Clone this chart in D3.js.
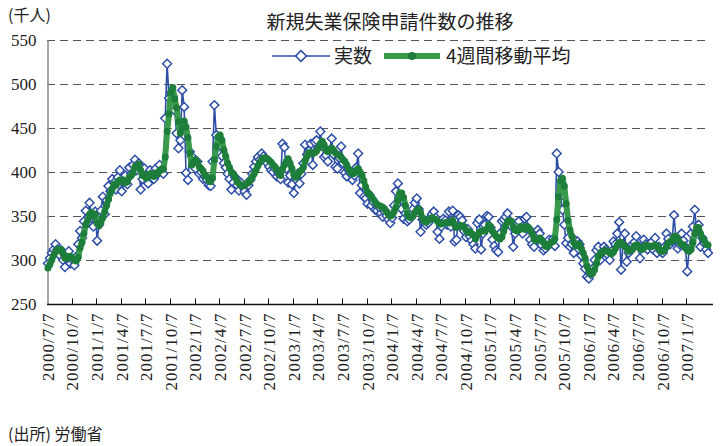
<!DOCTYPE html>
<html><head><meta charset="utf-8">
<script src="https://cdn.jsdelivr.net/npm/d3@7"></script>
<style>body{margin:0;background:#fff;}svg{display:block;}</style>
</head><body>
<svg id="c" width="723" height="446"></svg>
<script>
const tickLabels = ["2000/7/7","2000/10/7","2001/1/7","2001/4/7","2001/7/7","2001/10/7","2002/1/7","2002/4/7","2002/7/7","2002/10/7","2003/1/7","2003/4/7","2003/7/7","2003/10/7","2004/1/7","2004/4/7","2004/7/7","2004/10/7","2005/1/7","2005/4/7","2005/7/7","2005/10/7","2006/1/7","2006/4/7","2006/7/7","2006/10/7","2007/1/7"];
const yTicks = [250,300,350,400,450,500,550];
const seriesNames = ["実数","4週間移動平均"];
const actual = [
296,302,308,312,318,312,306,311,300,292,303,310,296,300,294,304,318,333,325,344,356,
342,365,352,338,355,322,340,356,372,352,368,384,378,392,388,380,394,402,378,388,
396,386,405,398,408,414,402,410,380,392,404,397,387,402,398,392,404,398,408,402,398,
461,523,484,490,486,470,444,427,436,493,474,399,391,423,418,410,404,412,398,400,392,395,391,385,384,412,476,442,429,
430,418,410,405,398,392,380,388,394,385,379,388,383,378,374,385,391,398,406,412,417,414,421,418,415,410,406,402,400,404,395,398,392,432,428,404,388,396,386,376,392,398,387,398,410,431,420,424,432,
408,434,436,428,446,430,417,419,412,425,438,420,406,404,416,429,410,399,395,402,398,391,396,405,421,376,385,372,370,364,374,362,366,357,356,360,353,349,355,350,346,342,348,362,378,387,372,358,347,353,344,346,352,358,365,370,358,332,346,345,340,342,348,352,355,348,332,324,338,347,
345,340,355,338,356,321,323,351,349,345,333,326,335,327,322,318,313,342,346,312,330,340,350,349,337,323,316,311,309,330,344,346,349,353,345,338,315,330,342,344,336,330,347,349,336,323,318,315,326,334,330,317,311,313,317,323,319,324,316,421,400,372,357,340,319,325,315,318,308,322,
321,318,305,296,290,281,279,284,290,300,311,315,300,308,315,312,306,300,310,321,318,330,343,289,318,330,298,308,312,318,320,327,316,302,315,323,318,312,318,320,312,325,308,315,310,308,315,330,324,318,322,351,325,313,318,330,322,315,287,312,330,338,357,332,340,315,325,319,312,308
];
const movingAvg = [
291,295,300,305,309,312,312,312,307,302,302,304,304,302,300,299,303,314,320,330,340,
345,352,354,350,352,342,339,343,348,355,362,369,376,381,386,385,389,391,389,391,
388,389,394,396,399,406,406,409,402,396,397,393,395,398,396,395,399,398,401,403,403,
417,446,466,490,496,483,473,457,444,450,458,451,439,422,408,411,414,411,406,404,401,396,395,391,389,393,414,429,440,
442,436,425,418,410,405,400,398,394,389,387,385,384,385,387,388,391,394,398,402,407,411,414,416,416,415,413,411,408,406,403,399,396,403,408,412,415,410,404,397,394,396,400,402,405,413,418,422,422,
421,422,424,427,432,435,431,425,423,424,427,425,422,420,419,417,414,412,408,403,400,398,399,402,404,400,397,390,383,377,375,372,369,366,363,362,361,360,358,355,352,350,351,355,360,368,376,376,371,362,352,349,348,350,354,356,358,354,348,344,343,345,347,348,347,346,344,341,341,342,
342,343,342,343,345,340,337,338,339,339,338,334,331,332,330,328,324,328,331,333,333,333,335,340,338,333,330,327,325,324,326,333,339,344,345,344,338,334,333,334,338,336,335,338,337,334,330,324,322,324,325,323,320,316,315,318,320,321,324,346,372,390,393,384,364,345,334,327,320,316,
318,318,313,308,302,293,288,284,285,289,296,304,307,309,310,311,310,308,307,309,313,317,320,320,318,316,313,310,311,312,316,317,316,313,312,314,317,316,316,315,316,317,316,313,310,310,311,315,319,321,322,327,327,324,320,318,317,314,311,310,312,320,330,337,337,330,325,322,318,317
];
const labelEvery = 13;

const svg = d3.select("#c");
const L = 47, R = 709, T = 40, B = 304;
const idx = d3.range(actual.length);
const x = d3.scaleBand().domain(idx).range([L, R]);
const xc = i => x(i) + x.bandwidth()/2;
const y = d3.scaleLinear().domain([250,550]).range([B, T]);
const serif = "'Liberation Serif','Times New Roman',serif";
const cjk = "'Noto Sans CJK JP','Noto Sans CJK SC',sans-serif";

// gridlines
svg.append("g").selectAll("line").data(yTicks.filter(v=>v>250)).join("line")
  .attr("x1", L).attr("x2", R)
  .attr("y1", d=>Math.round(y(d))+0.5).attr("y2", d=>Math.round(y(d))+0.5)
  .attr("stroke", "#555").attr("stroke-width", 1).attr("stroke-dasharray", "8,5");

// y axis
const yAxis = d3.axisLeft(y).tickValues(yTicks).tickSize(0).tickPadding(11);
const gy = svg.append("g").attr("transform", `translate(${L+0.5},0)`).call(yAxis);
gy.select(".domain").attr("stroke", "#888").attr("stroke-width", 1.5);
gy.selectAll("text").attr("font-family", serif).attr("font-size", 17).attr("fill", "#222");

// x axis
const tickIdx = idx.filter(i => i % labelEvery === 0);
const gx = svg.append("g").attr("transform", `translate(0,${B+0.5})`);
gx.append("line").attr("x1", L).attr("x2", R+4).attr("y1",0).attr("y2",0).attr("stroke","#111").attr("stroke-width",1.5);
gx.selectAll("line.tk").data(tickIdx.filter(i=>i>0)).join("line").attr("class","tk")
  .attr("x1", i=>Math.round(x(i))+0.5).attr("x2", i=>Math.round(x(i))+0.5)
  .attr("y1", 0).attr("y2", -6).attr("stroke","#111").attr("stroke-width",1);
gx.selectAll("text").data(tickIdx).join("text")
  .attr("transform", (i)=>`translate(${xc(i)},8) rotate(-90)`)
  .attr("text-anchor","end").attr("dy","0.35em")
  .attr("font-family", serif).attr("font-size", 17).attr("letter-spacing", 1).attr("fill","#222")
  .text((i,k)=>tickLabels[k]);

// blue actual series
const lineA = d3.line().x((d,i)=>xc(i)).y(d=>y(d));
svg.append("path").datum(actual).attr("d", lineA)
  .attr("fill","none").attr("stroke","#2f4fa6").attr("stroke-width",1.6);
const diamond = d3.symbol().type(d3.symbolDiamond2).size(50);
svg.append("g").selectAll("path").data(actual).join("path")
  .attr("transform",(d,i)=>`translate(${xc(i)},${y(d)})`)
  .attr("d", diamond).attr("fill","#fff").attr("stroke","#2f4fa6").attr("stroke-width",1.5);

// green moving average
svg.append("path").datum(movingAvg).attr("d", lineA)
  .attr("fill","none").attr("stroke","#3a9a4c").attr("stroke-width",6).attr("stroke-linejoin","round");
svg.append("g").selectAll("circle").data(movingAvg).join("circle")
  .attr("cx",(d,i)=>xc(i)).attr("cy",d=>y(d)).attr("r",3.5).attr("fill","#1c7e3a");

// texts
svg.append("text").attr("x",8).attr("y",21).attr("font-family",cjk).attr("font-size",16).attr("fill","#222").text("(千人)");
svg.append("text").attr("x",390).attr("y",29).attr("text-anchor","middle").attr("font-family",cjk).attr("font-size",19).attr("fill","#222").text("新規失業保険申請件数の推移");
svg.append("text").attr("x",8).attr("y",440).attr("font-family",cjk).attr("font-size",16).attr("fill","#222").text("(出所) 労働省");

// legend
const lg = svg.append("g");
lg.append("line").attr("x1",272).attr("x2",330).attr("y1",56).attr("y2",56).attr("stroke","#2f4fa6").attr("stroke-width",1.6);
lg.append("path").attr("transform","translate(301,56)").attr("d", d3.symbol().type(d3.symbolDiamond2).size(75)).attr("fill","#fff").attr("stroke","#2f4fa6").attr("stroke-width",1.6);
lg.append("text").attr("x",334).attr("y",63).attr("font-family",cjk).attr("font-size",19).attr("fill","#222").text(seriesNames[0]);
lg.append("line").attr("x1",384).attr("x2",440).attr("y1",56).attr("y2",56).attr("stroke","#3a9a4c").attr("stroke-width",6);
lg.append("circle").attr("cx",412).attr("cy",56).attr("r",4).attr("fill","#1c7e3a");
lg.append("text").attr("x",446).attr("y",63).attr("font-family",cjk).attr("font-size",19).attr("fill","#222").text(seriesNames[1]);
</script>
</body></html>
